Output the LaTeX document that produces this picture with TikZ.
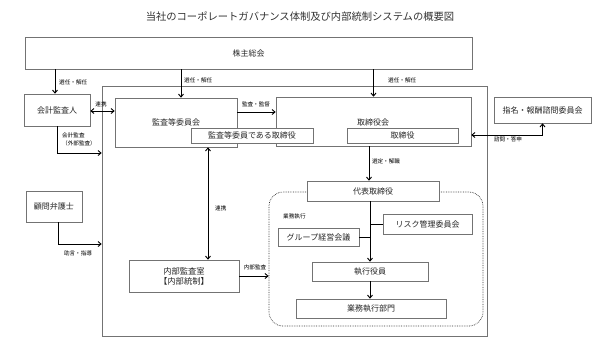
\documentclass[tikz,border=0pt]{standalone}
\usepackage{fontspec}
\setmainfont{Noto Sans CJK JP}
\usetikzlibrary{arrows.meta}
\begin{document}
\begin{tikzpicture}[x=1pt,y=-1pt,
  box/.style={draw=black!55, line width=0.6pt, fill=white, inner sep=0pt, text=black!85,
    font=\fontsize{8}{9.5}\selectfont, align=center},
  lbl/.style={inner sep=0pt, text=black, font=\fontsize{5.6}{7.5}\selectfont, align=left},
  arr/.style={line width=0.9pt, -{Straight Barb[length=3pt,width=5pt]}},
  darr/.style={line width=0.9pt, {Straight Barb[length=3pt,width=5pt]}-{Straight Barb[length=3pt,width=5pt]}},
  ln/.style={line width=0.9pt}]
\useasboundingbox (0,0) rectangle (600,341);
\fill[white] (0,0) rectangle (600,341);
% title
\node[inner sep=0pt, text=black!80, font=\fontsize{10.3}{12}\selectfont] (title) at (300,17) {当社のコーポレートガバナンス体制及び内部統制システムの概要図};
% outer board frame
\node[draw=black!55, line width=0.6pt, minimum width=385, minimum height=250, inner sep=0pt] (board) at (294.5,211) {};
% dotted execution area
\node[draw=black!80, line width=0.7pt, densely dotted, rounded corners=14pt, minimum width=214, minimum height=134, inner sep=0pt] (exec) at (376,259) {};
% boxes
\node[box, minimum width=447, minimum height=32] (kabu) at (248.5,53) {株主総会};
\node[box, minimum width=66, minimum height=32] (kaikei) at (57,110) {会計監査人};
\node[box, minimum width=122, minimum height=49, text height=0pt] (kansa) at (176,122.5) {};
\node[box, draw=none, fill=none] (kansatxt) at (176,122) {監査等委員会};
\node[box, minimum width=195, minimum height=49] (torikai) at (373.5,121.5) {};
\node[box, draw=none, fill=none] (torikaitxt) at (373,122) {取締役会};
\node[box, minimum width=122, minimum height=15] (kansatori) at (252,135.5) {監査等委員である取締役};
\node[box, minimum width=111, minimum height=15] (tori) at (402.5,135.5) {取締役};
\node[box, minimum width=97, minimum height=26] (shimei) at (542.5,110) {指名・報酬諮問委員会};
\node[box, minimum width=56, minimum height=31] (bengo) at (54,206.5) {顧問弁護士};
\node[box, minimum width=110, minimum height=32, font=\fontsize{8.3}{10}\selectfont] (naibu) at (184,276) {内部監査室\\【内部統制】};
\node[box, minimum width=132, minimum height=20] (daihyo) at (373,191) {代表取締役};
\node[box, minimum width=81, minimum height=18] (group) at (318.5,237) {グループ経営会議};
\node[box, minimum width=89, minimum height=20] (risk) at (427.5,224) {リスク管理委員会};
\node[box, minimum width=116, minimum height=19] (shikko) at (370,271.5) {執行役員};
\node[box, minimum width=150, minimum height=19] (gyomu) at (371,308.5) {業務執行部門};
% helper coordinates
\coordinate (xk) at (181,0);
\coordinate (xr) at (208,0);
\coordinate (xd) at (369,0);
% connectors from shareholders
\draw[arr] (kabu.south -| 55,0) -- (kaikei.north -| 55,0);
\node[lbl, anchor=west] (l1) at (59,82) {選任・解任};
\draw[arr] (kabu.south -| xk) -- (kansa.north -| xk);
\node[lbl, anchor=west] (l2) at (184,80) {選任・解任};
\draw[arr] (kabu.south -| torikai.north) -- (torikai.north);
\node[lbl, anchor=west] (l3) at (388,80) {選任・解任};
% auditor links
\draw[darr] (kaikei.east |- 0,111) -- (kansa.west |- 0,111);
\node[lbl] (l4) at (101,104) {連携};
\draw[arr] (kaikei.south) |- (board.west |- 0,153);
\node[lbl, anchor=north west] (l5) at (62,133) {会計監査\\（外部監査）};
\draw[arr] (kansa.east |- 0,112) -- (torikai.west |- 0,112);
\node[lbl] (l6) at (256,104) {監査・監督};
% audit committee <-> internal audit
\draw[darr] (kansa.south -| xr) -- (naibu.north -| xr);
\node[lbl, anchor=west] (l7) at (215,208) {連携};
\draw[arr] (naibu.east |- 0,276) -- (exec.west |- 0,276);
\node[lbl] (l8) at (255,267) {内部監査};
% lawyer
\draw[arr] ([xshift=4pt]bengo.south) |- (board.west |- 0,244);
\node[lbl] (l9) at (78,253) {助言・指導};
% nomination committee
\draw[darr] (torikai.east |- 0,135) -| (shimei.south);
\node[lbl] (l10) at (508,139) {諮問・答申};
% board -> representative director
\draw[arr] (torikai.south -| xd) -- (daihyo.north -| xd);
\node[lbl] (l11) at (386,161) {選定・解職};
% execution
\node[lbl, anchor=west] (l12) at (283,216) {業務執行};
\draw[arr] (daihyo.south -| shikko.north) -- (shikko.north);
\draw[ln] (risk.west) -- (risk.west -| shikko.north);
\draw[ln] (group.east) -- (group.east -| shikko.north);
\draw[arr] (shikko.south) -- (gyomu.north -| shikko.south);
\end{tikzpicture}
\end{document}
